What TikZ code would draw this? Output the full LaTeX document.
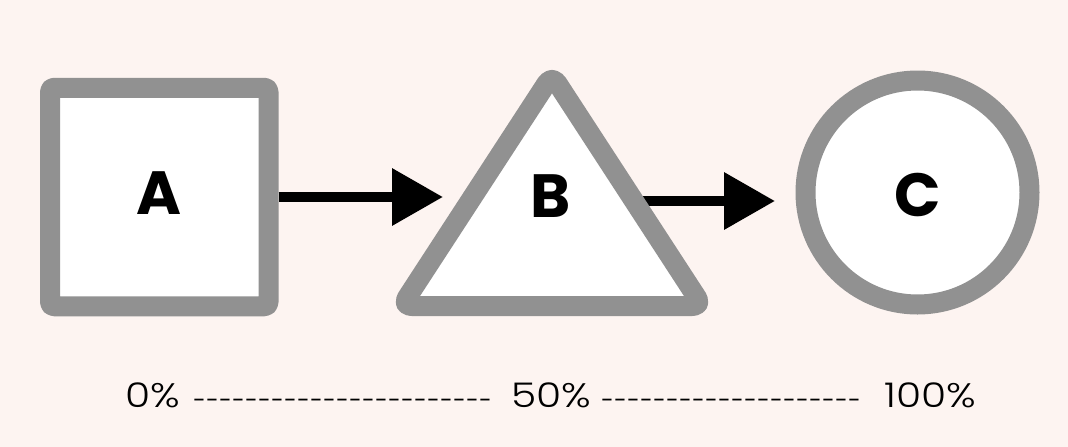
\documentclass[tikz,border=0pt]{standalone}
\usepackage{fontspec}
\setmainfont{Poppins}
\newfontfamily\lightfnt{Poppins}[UprightFont=* Light, FakeStretch=1.2]
\newfontfamily\dashfnt{Poppins}[Ligatures=TeXOff]
\usetikzlibrary{arrows.meta}
\definecolor{bg}{HTML}{FDF4F1}
\definecolor{edge}{HTML}{919191}
\newcommand\hy{\makebox[13pt]{-}}
\begin{document}
\begin{tikzpicture}[x=1pt,y=-1pt,
  shapeline/.style={draw=edge, line width=20pt, fill=white, line join=round},
  letter/.style={font=\bfseries\fontsize{61}{61}\selectfont, text=black},
  arr/.style={draw=black, line width=10pt, -{Triangle[length=51pt,width=55pt]}},
  tick/.style={font=\lightfnt\fontsize{34}{34}\selectfont, anchor=base, inner sep=0pt, text=black},
  dashrun/.style={font=\dashfnt\fontsize{23}{23}\selectfont, anchor=base, inner sep=0pt, text=black}
]
\fill[bg] (0,0) rectangle (1068,447);
\useasboundingbox (0,0) rectangle (1068,447);

% A
\node[shapeline, rectangle, rounded corners=4pt, minimum size=218.5pt, inner sep=0pt, letter, text depth=7pt] (A) at (159.25,197) {A};

% arrow B -> C drawn first so the triangle hides its start
\coordinate (Bout) at (630,201);
\coordinate (tipC) at (775,201);
\draw[arr] (Bout) -- (tipC);

% B triangle
\coordinate (Bl) at (401.6,306);
\coordinate (Bt) at (552,75);
\coordinate (Br) at (702.4,306);
\draw[shapeline, rounded corners=10pt] (Bl) -- (Bt) -- (Br) -- cycle;
\node[letter] (B) at (551,196) {B};

% C
\node[shapeline, circle, minimum size=224pt, inner sep=0pt, letter, text height=48pt, text depth=0pt] (C) at (917.5,192.5) {C};

% arrow A -> B
\coordinate (tipB) at (443,197);
\draw[arr] (A) -- (tipB);

% scale
\node[tick] (p0) at (152.5,407) {0\%};
\node[dashrun] (d1) at (342.5,408.5) {\hy\hy\hy\hy\hy\hy\hy\hy\hy\hy\hy\hy\hy\hy\hy\hy\hy\hy\hy\hy\hy\hy\hy};
\node[tick] (p50) at (551.5,407) {50\%};
\node[dashrun] (d2) at (731,408.5) {\hy\hy\hy\hy\hy\hy\hy\hy\hy\hy\hy\hy\hy\hy\hy\hy\hy\hy\hy\hy};
\node[tick] (p100) at (930,407) {100\%};
\end{tikzpicture}
\end{document}
